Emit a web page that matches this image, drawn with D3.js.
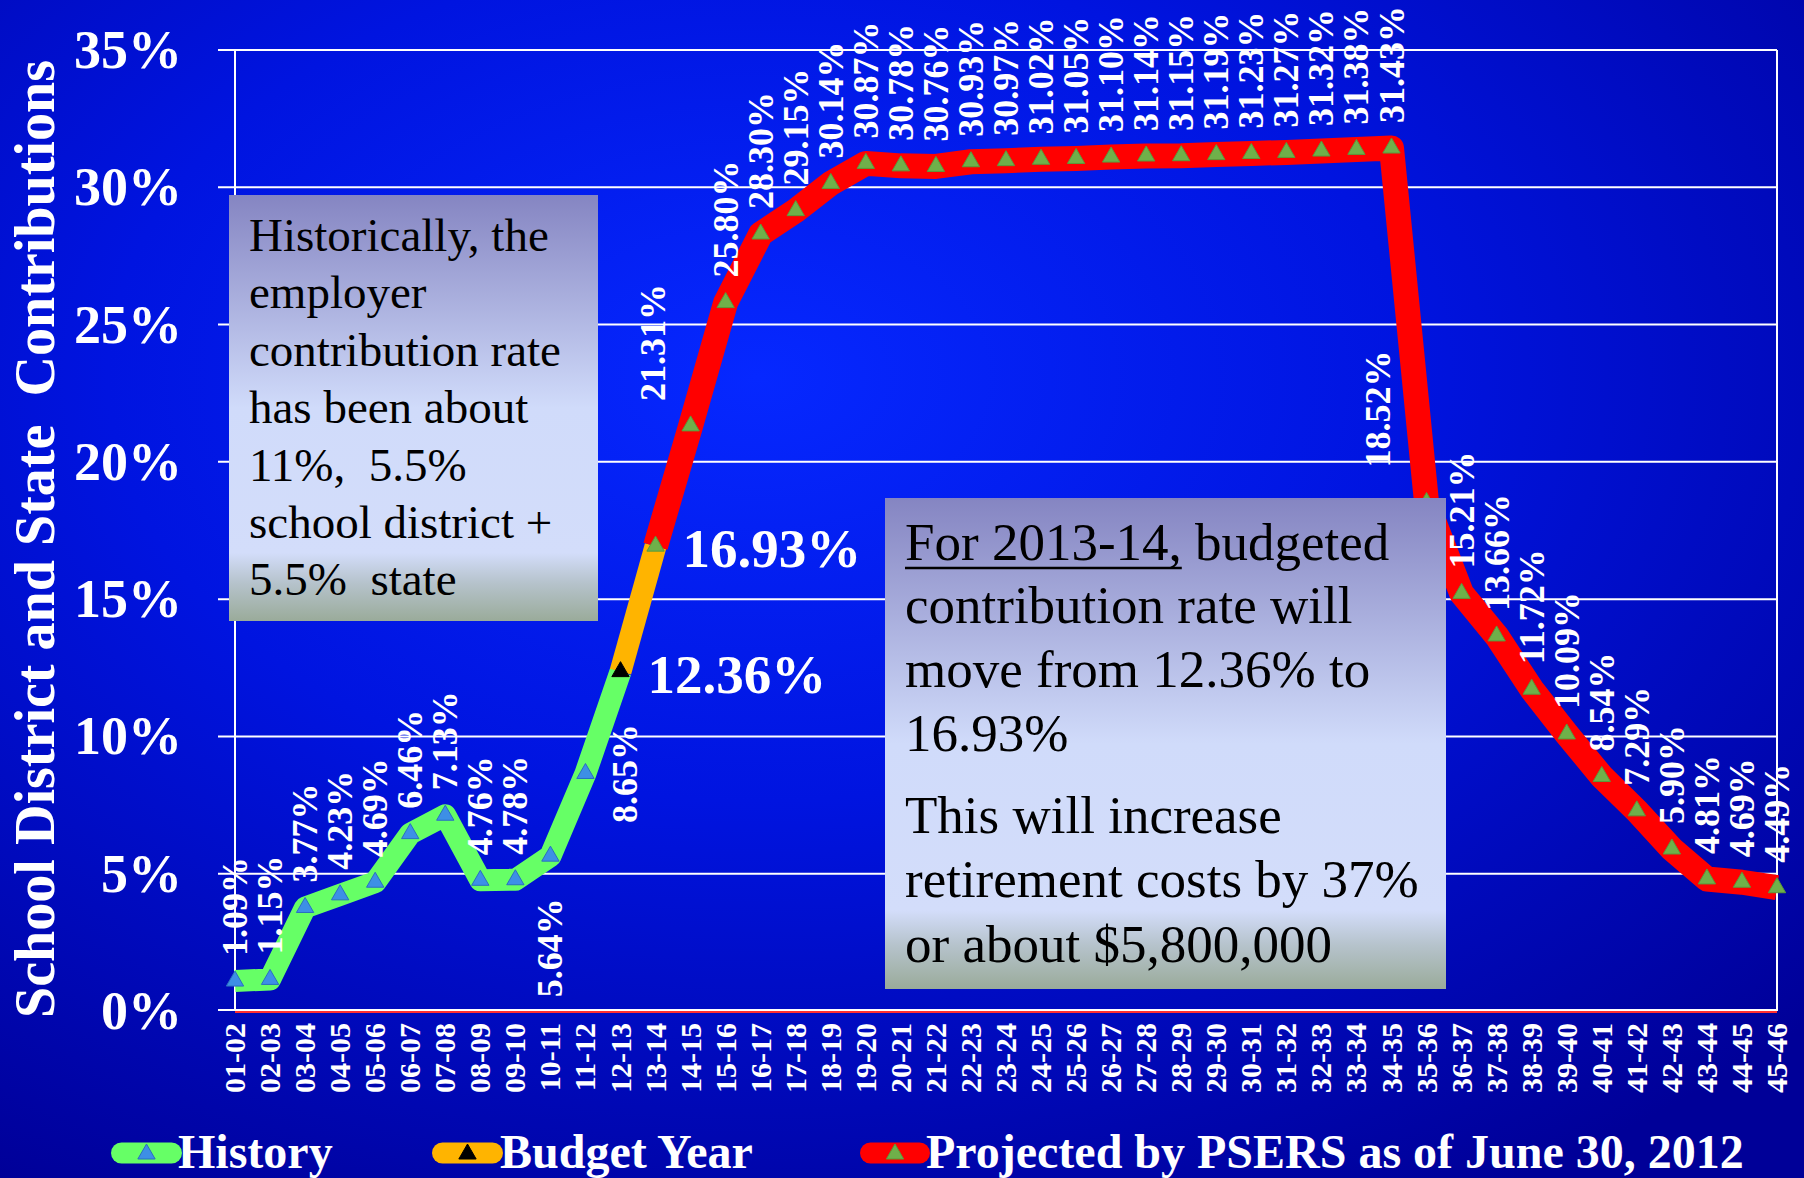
<!DOCTYPE html>
<html>
<head>
<meta charset="utf-8">
<script src="https://cdn.jsdelivr.net/npm/d3@7.9.0/dist/d3.min.js"></script>
<style>
  html, body { margin: 0; padding: 0; background: #0000a8; }
  svg { display: block; }
  text { font-family: "Liberation Serif", "Times New Roman", serif; }
</style>
</head>
<body>
<svg id="chart" width="1804" height="1178"></svg>
<script>
/* ---------- data ---------- */
const years = ["01-02","02-03","03-04","04-05","05-06","06-07","07-08","08-09","09-10","10-11",
  "11-12","12-13","13-14","14-15","15-16","16-17","17-18","18-19","19-20","20-21",
  "21-22","22-23","23-24","24-25","25-26","26-27","27-28","28-29","29-30","30-31",
  "31-32","32-33","33-34","34-35","35-36","36-37","37-38","38-39","39-40","40-41",
  "41-42","42-43","43-44","44-45","45-46"];

// History: 01-02 .. 12-13
const historyVals = [1.09, 1.15, 3.77, 4.23, 4.69, 6.46, 7.13, 4.76, 4.78, 5.64, 8.65, 12.36];
// Budget year: 12-13 .. 13-14
const budgetVals = [12.36, 16.93];
// Projected by PSERS: 13-14 .. 45-46
const projectedVals = [16.93, 21.31, 25.80, 28.30, 29.15, 30.14, 30.87, 30.78, 30.76, 30.93,
  30.97, 31.02, 31.05, 31.10, 31.14, 31.15, 31.19, 31.23, 31.27, 31.32,
  31.38, 31.43, 18.52, 15.21, 13.66, 11.72, 10.09, 8.54, 7.29, 5.90,
  4.81, 4.69, 4.49];

const yTicks = [0, 5, 10, 15, 20, 25, 30, 35];
const legendLabels = ["History", "Budget Year", "Projected by PSERS as of June 30, 2012"];
const yTitle = "School District and State  Contributions";

const note1 = ["Historically, the", "employer", "contribution rate", "has been about",
  "11%,  5.5%", "school district +", "5.5%  state"];
const note2Head = "For 2013-14,";
const note2 = [" budgeted", "contribution rate will", "move from 12.36% to", "16.93%",
  "This will increase", "retirement costs by 37%", "or about $5,800,000"];

/* ---------- layout ---------- */
const W = 1804, H = 1178;
const plotL = 235, plotR = 1777, plotT = 50, plotB = 1011;

const svg = d3.select('#chart');
const x = d3.scalePoint().domain(years).range([plotL, plotR]).padding(0);
const y = d3.scaleLinear().domain([0, 35]).range([plotB, plotT]);

const series = [
  { name: "history",   start: 0,  vals: historyVals,   color: "#66ff66", width: 22, marker: "#3d8fe6", mstroke: "#2a6fc0" },
  { name: "budget",    start: 11, vals: budgetVals,    color: "#ffb400", width: 22, marker: "#000000", mstroke: "#000000" },
  { name: "projected", start: 12, vals: projectedVals, color: "#ff0000", width: 25, marker: "#6fb04a", mstroke: "#5a9a3a" }
];
series.forEach(s => s.pts = s.vals.map((v, i) => ({ cat: years[s.start + i], v })));

/* ---------- background ---------- */
const defs = svg.append('defs');
const bg = defs.append('radialGradient').attr('id', 'bg')
  .attr('cx', 0.42).attr('cy', 0.32).attr('r', 0.8);
bg.append('stop').attr('offset', 0).attr('stop-color', '#0628ff');
bg.append('stop').attr('offset', 0.45).attr('stop-color', '#0014e0');
bg.append('stop').attr('offset', 1).attr('stop-color', '#000098');

const boxGrad = defs.append('linearGradient').attr('id', 'boxg')
  .attr('x1', 0).attr('y1', 0).attr('x2', 0).attr('y2', 1);
[[0, '#8585c2'], [0.5, '#d0dbfa'], [0.84, '#d3ddfa'], [0.91, '#b6c3cc'], [1, '#9aab9a']]
  .forEach(([o, c]) => boxGrad.append('stop').attr('offset', o).attr('stop-color', c));

svg.append('rect').attr('width', W).attr('height', H).attr('fill', 'url(#bg)');

/* ---------- grid + axes ---------- */
svg.append('g').selectAll('line')
  .data(yTicks.filter(t => t > 0))
  .enter().append('line')
  .attr('x1', plotL - 17).attr('x2', plotR)
  .attr('y1', d => y(d)).attr('y2', d => y(d))
  .attr('stroke', '#ffffff').attr('stroke-width', 2);

svg.append('line').attr('x1', plotL).attr('x2', plotL).attr('y1', plotT).attr('y2', plotB)
  .attr('stroke', '#fff').attr('stroke-width', 2);
svg.append('line').attr('x1', plotR).attr('x2', plotR).attr('y1', plotT).attr('y2', plotB)
  .attr('stroke', '#fff').attr('stroke-width', 2);
svg.append('line').attr('x1', plotL - 17).attr('x2', plotR).attr('y1', plotB - 1).attr('y2', plotB - 1)
  .attr('stroke', '#fff').attr('stroke-width', 2);
svg.append('line').attr('x1', plotL).attr('x2', plotR).attr('y1', plotB + 1).attr('y2', plotB + 1)
  .attr('stroke', '#ff3030').attr('stroke-width', 2);

// y tick labels
svg.append('g').selectAll('text')
  .data(yTicks).enter().append('text')
  .attr('x', 182).attr('y', d => y(d) + 18)
  .attr('text-anchor', 'end')
  .attr('fill', '#fff').attr('font-weight', 'bold').attr('font-size', 54)
  .text(d => d + '%');

// y title
svg.append('text')
  .attr('transform', `translate(54,539) rotate(-90)`)
  .attr('text-anchor', 'middle')
  .attr('fill', '#fff').attr('font-weight', 'bold').attr('font-size', 57)
  .attr('textLength', 958).attr('lengthAdjust', 'spacingAndGlyphs')
  .style('white-space', 'pre')
  .text(yTitle);

// x tick labels
svg.append('g').selectAll('text')
  .data(years).enter().append('text')
  .attr('transform', d => `translate(${x(d) + 10},1023) rotate(-90)`)
  .attr('text-anchor', 'end')
  .attr('fill', '#fff').attr('font-weight', 'bold').attr('font-size', 30)
  .text(d => d);

/* ---------- lines ---------- */
const lineGen = d3.line().x(d => x(d.cat)).y(d => y(d.v));

series.forEach(s => {
  svg.append('path')
    .attr('d', lineGen(s.pts))
    .attr('fill', 'none')
    .attr('stroke', s.color)
    .attr('stroke-width', s.width)
    .attr('stroke-linejoin', 'round');
});

const tri = d3.symbol().type(d3.symbolTriangle).size(130);
series.forEach(s => {
  // shared points: 12-13 gets the budget marker, 13-14 the projected one
  const pts = s.name === 'budget' ? s.pts.slice(0, 1) : (s.name === 'history' ? s.pts.slice(0, -1) : s.pts);
  svg.append('g').selectAll('path')
    .data(pts).enter().append('path')
    .attr('d', tri)
    .attr('transform', d => `translate(${x(d.cat)},${y(d.v)})`)
    .attr('fill', s.marker).attr('stroke', s.mstroke).attr('stroke-width', 1);
});

/* ---------- data labels ---------- */
const labelTweaks = {
  "10-11": { below: 42 },
  "11-12": { dx: 40, mid: true },
  "14-15": { dx: -38 },
  "35-36": { dx: -49, gap: 35 }
};
const smallLabels = [
  ...series[0].pts.slice(0, -1),
  ...series[2].pts.slice(1)
];
const fmt = v => v.toFixed(2) + '%';

svg.append('g').selectAll('text')
  .data(smallLabels).enter().append('text')
  .each(function (d) {
    const t = labelTweaks[d.cat] || {};
    const px = x(d.cat) + (t.dx || 0) + 12;
    let py, anchor;
    if (t.below) { py = y(d.v) + t.below; anchor = 'end'; }
    else if (t.mid) { py = y(d.v); anchor = 'middle'; }
    else { py = y(d.v) - (t.gap || 25); anchor = 'start'; }
    d3.select(this)
      .attr('transform', `translate(${px},${py}) rotate(-90)`)
      .attr('text-anchor', anchor);
  })
  .attr('fill', '#fff').attr('font-weight', 'bold').attr('font-size', 36)
  .text(d => fmt(d.v));

// big labels for the budget year points
svg.append('g').selectAll('text')
  .data(series[1].pts).enter().append('text')
  .attr('x', d => x(d.cat) + 27)
  .attr('y', d => y(d.v) + 21)
  .attr('fill', '#fff').attr('font-weight', 'bold').attr('font-size', 55)
  .text(d => fmt(d.v));

/* ---------- note boxes ---------- */
svg.append('rect').attr('x', 229).attr('y', 195).attr('width', 369).attr('height', 426)
  .attr('fill', 'url(#boxg)');
svg.append('g').selectAll('text')
  .data(note1).enter().append('text')
  .attr('x', 249).attr('y', (d, i) => 251 + i * 57.4)
  .attr('fill', '#000').attr('font-size', 47)
  .style('white-space', 'pre')
  .text(d => d);

svg.append('rect').attr('x', 885).attr('y', 498).attr('width', 561).attr('height', 491)
  .attr('fill', 'url(#boxg)');
const n2base = [560, 623, 687, 751, 833, 897, 962];
const head = svg.append('text').attr('x', 905).attr('y', n2base[0])
  .attr('fill', '#000').attr('font-size', 53).style('white-space', 'pre')
  .text(note2Head);
const headW = head.node().getComputedTextLength();
svg.append('line').attr('x1', 905).attr('x2', 905 + headW)
  .attr('y1', n2base[0] + 8).attr('y2', n2base[0] + 8)
  .attr('stroke', '#000').attr('stroke-width', 2.5);
svg.append('g').selectAll('text')
  .data(note2).enter().append('text')
  .attr('x', (d, i) => i === 0 ? 905 + headW : 905)
  .attr('y', (d, i) => n2base[i])
  .attr('fill', '#000').attr('font-size', 53)
  .style('white-space', 'pre')
  .text(d => d);

/* ---------- legend ---------- */
const legendPos = [
  { x1: 111, x2: 182, tx: 178 },
  { x1: 432, x2: 503, tx: 500 },
  { x1: 860, x2: 930, tx: 926 }
];
const lg = svg.append('g');
series.forEach((s, i) => {
  const p = legendPos[i];
  lg.append('line')
    .attr('x1', p.x1 + 10.5).attr('x2', p.x2 - 10.5)
    .attr('y1', 1153).attr('y2', 1153)
    .attr('stroke', s.color).attr('stroke-width', 21).attr('stroke-linecap', 'round');
  lg.append('path').attr('d', tri)
    .attr('transform', `translate(${(p.x1 + p.x2) / 2},1154)`)
    .attr('fill', s.marker).attr('stroke', s.mstroke);
  lg.append('text')
    .attr('x', p.tx).attr('y', 1168)
    .attr('fill', '#fff').attr('font-weight', 'bold').attr('font-size', 48)
    .text(legendLabels[i]);
});
</script>
</body>
</html>
